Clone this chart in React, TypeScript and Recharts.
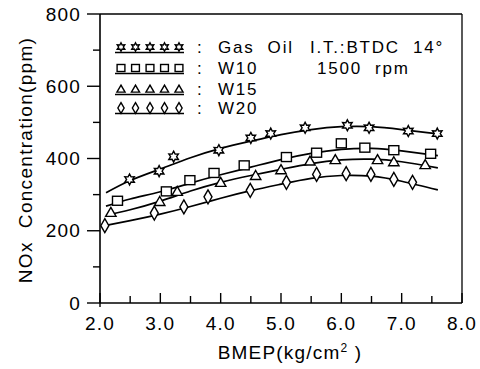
import React from "react";
import { LineChart, Line, XAxis, YAxis, ReferenceLine } from "recharts";

// measured points (BMEP kg/cm2, NOx ppm)
const gasOilX = [2.49, 2.98, 3.22, 3.97, 4.5, 4.83, 5.4, 6.1, 6.46, 7.11, 7.59];
const gasOilY = [342, 365, 405, 423, 457, 469, 485, 492, 485, 476, 469];
const w10X = [2.29, 3.1, 3.49, 3.89, 4.39, 5.09, 5.59, 6.0, 6.39, 6.87, 7.48];
const w10Y = [283, 309, 340, 360, 381, 404, 416, 442, 430, 423, 413];
const w15X = [2.18, 2.99, 3.28, 4.0, 4.58, 5.0, 5.48, 5.9, 6.6, 6.87, 7.39];
const w15Y = [251, 281, 309, 334, 353, 369, 393, 397, 397, 391, 383];
const w20X = [2.08, 2.9, 3.39, 3.79, 4.49, 5.09, 5.59, 6.08, 6.49, 6.87, 7.18];
const w20Y = [214, 249, 266, 294, 312, 334, 356, 358, 356, 342, 334];

// fitted curves
const curveX = [2.1, 2.5, 3.0, 3.5, 4.0, 4.5, 5.0, 5.5, 6.0, 6.5, 7.0, 7.6];
const gasOilFit = [305, 339, 371, 402, 428, 448, 466, 480, 488, 488, 480, 468];
const w10Fit = [268, 288, 308, 332, 355, 376, 397, 414, 425, 428, 421, 408];
const w15Fit = [243, 258, 282, 310, 334, 353, 370, 386, 396, 398, 391, 374];
const w20Fit = [215, 228, 246, 267, 290, 311, 329, 345, 353, 351, 337, 313];

const xTicks = [2, 2.5, 3, 3.5, 4, 4.5, 5, 5.5, 6, 6.5, 7, 7.5, 8];
const yTicks = [0, 100, 200, 300, 400, 500, 600, 700, 800];

const FONT = "'Liberation Sans', Arial, sans-serif";
const txt = { fontSize: 19, fontFamily: FONT, letterSpacing: 1.2, fill: "#000" };
const legTxt = { fontSize: 17, fontFamily: FONT, letterSpacing: 1.8, fill: "#000" };

const pts = (xs: number[], ys: number[]) => xs.map((x, i) => ({ x, y: ys[i] }));

type Marker = "star" | "square" | "triangle" | "diamond";

function MarkerShape({ kind, cx, cy, s = 1 }: { kind: Marker; cx: number; cy: number; s?: number }) {
  const common = { fill: "#fff", stroke: "#000", strokeWidth: 1.4 };
  if (kind === "square") return <rect x={cx - 5 * s} y={cy - 4.5 * s} width={10 * s} height={9 * s} {...common} />;
  if (kind === "triangle")
    return <polygon points={`${cx},${cy - 5 * s} ${cx + 5.2 * s},${cy + 4 * s} ${cx - 5.2 * s},${cy + 4 * s}`} {...common} />;
  if (kind === "diamond")
    return <polygon points={`${cx},${cy - 7 * s} ${cx + 4 * s},${cy} ${cx},${cy + 7 * s} ${cx - 4 * s},${cy}`} {...common} />;
  const p: string[] = [];
  for (let i = 0; i < 12; i++) {
    const r = (i % 2 === 0 ? 5.5 : 3) * s;
    const a = (Math.PI / 6) * i - Math.PI / 2;
    p.push(`${cx + r * Math.cos(a)},${cy + r * Math.sin(a)}`);
  }
  return <polygon points={p.join(" ")} {...common} />;
}

const dotFor = (kind: Marker) => (props: any) => (
  <MarkerShape key={`${kind}-${props.index}`} kind={kind} cx={props.cx} cy={props.cy} />
);

const series: { name: string; kind: Marker; xs: number[]; ys: number[]; fit: number[] }[] = [
  { name: "Gas  Oil", kind: "star", xs: gasOilX, ys: gasOilY, fit: gasOilFit },
  { name: "W10", kind: "square", xs: w10X, ys: w10Y, fit: w10Fit },
  { name: "W15", kind: "triangle", xs: w15X, ys: w15Y, fit: w15Fit },
  { name: "W20", kind: "diamond", xs: w20X, ys: w20Y, fit: w20Fit },
];

function YTick(props: any) {
  const { x, y, payload } = props;
  const major = payload.value % 200 === 0;
  return (
    <g>
      <line x1={x - (major ? 13 : 7)} x2={x} y1={y} y2={y} stroke="#000" strokeWidth={1.4} />
      {major && (
        <text x={x - 19} y={y} textAnchor="end" dominantBaseline="central" {...txt}>
          {payload.value}
        </text>
      )}
    </g>
  );
}

function XTick(props: any) {
  const { x, y, payload } = props;
  const major = Number.isInteger(payload.value);
  return (
    <g>
      <line x1={x} x2={x} y1={y - (major ? 10 : 7)} y2={y + (payload.value === 2 ? 4 : 0)} stroke="#000" strokeWidth={1.4} />
      {major && (
        <text x={x} y={y + 27} textAnchor="middle" {...txt}>
          {payload.value.toFixed(1)}
        </text>
      )}
    </g>
  );
}

function LegendOverlay() {
  const rows = [47, 68, 89, 108];
  return (
    <svg width={480} height={369} style={{ position: "absolute", left: 0, top: 0, pointerEvents: "none" }}>
      {series.map((s, i) => {
        const cy = rows[i];
        return (
          <g key={s.name}>
            {[0, 1, 2, 3, 4].map((k) => (
              <MarkerShape key={k} kind={s.kind} cx={121 + k * 14.5} cy={cy} s={0.78} />
            ))}
            <line x1={115} x2={184} y1={cy + 5.5} y2={cy + 5.5} stroke="#000" strokeWidth={1.3} />
            <text x={197} y={cy} dominantBaseline="central" {...legTxt}>:</text>
            <text x={218} y={cy} dominantBaseline="central" {...legTxt} style={{ whiteSpace: "pre" }}>
              {s.name}
            </text>
          </g>
        );
      })}
      <text x={310} y={47} dominantBaseline="central" {...legTxt} style={{ whiteSpace: "pre" }}>I.T.:BTDC  14°</text>
      <text x={317} y={68} dominantBaseline="central" {...legTxt} style={{ whiteSpace: "pre" }}>1500  rpm</text>
    </svg>
  );
}

export default function App() {
  return (
    <div style={{ position: "absolute", left: 0, top: 0, width: 480, height: 369, background: "#fff" }}>
      <LineChart width={480} height={369} margin={{ top: 14, right: 18, bottom: 0, left: 0 }}>
        <XAxis
          dataKey="x"
          type="number"
          domain={[2, 8]}
          ticks={xTicks}
          height={66}
          tickSize={0}
          tickMargin={0}
          tick={<XTick />}
          axisLine={{ stroke: "#000", strokeWidth: 1.6 }}
          allowDuplicatedCategory={false}
          label={{
            content: () => (
              <text x={290} y={359} textAnchor="middle" {...txt} style={{ whiteSpace: "pre" }}>
                BMEP(kg/cm<tspan fontSize={12} dy={-7}>2</tspan>
                <tspan dy={7}> )</tspan>
              </text>
            ),
          }}
        />
        <YAxis
          type="number"
          domain={[0, 800]}
          ticks={yTicks}
          width={100}
          tickSize={0}
          tickMargin={0}
          tick={<YTick />}
          axisLine={{ stroke: "#000", strokeWidth: 1.6 }}
          label={{
            content: () => (
              <text x={32} y={160} transform="rotate(-90 32 160)" textAnchor="middle" {...txt} letterSpacing={1.3} style={{ whiteSpace: "pre" }}>
                NOx  Concentration(ppm)
              </text>
            ),
          }}
        />
        <ReferenceLine y={800} stroke="#000" strokeWidth={1.3} ifOverflow="extendDomain" />
        <ReferenceLine x={8} stroke="#000" strokeWidth={1.3} ifOverflow="extendDomain" />
        {series.map((s) => (
          <Line
            key={s.name + "-fit"}
            data={pts(curveX, s.fit)}
            dataKey="y"
            type="natural"
            stroke="#000"
            strokeWidth={1.7}
            dot={false}
            activeDot={false}
            isAnimationActive={false}
          />
        ))}
        {series.map((s) => (
          <Line
            key={s.name + "-pts"}
            data={pts(s.xs, s.ys)}
            dataKey="y"
            stroke="none"
            dot={dotFor(s.kind)}
            activeDot={false}
            isAnimationActive={false}
          />
        ))}
      </LineChart>
      <LegendOverlay />
    </div>
  );
}
